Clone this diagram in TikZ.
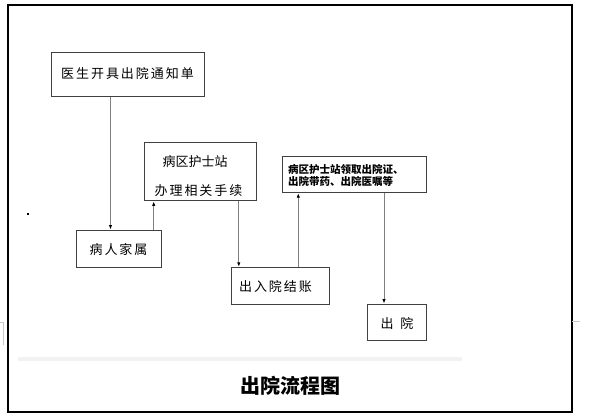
\documentclass[tikz,border=0pt]{standalone}
\usepackage{fontspec}
\usetikzlibrary{arrows.meta}
\newfontfamily\cjk{Noto Sans CJK SC}
\newfontfamily\cjkls[LetterSpace=15]{Noto Sans CJK SC}
\definecolor{boxline}{HTML}{404040}
\definecolor{connline}{HTML}{7F7F7F}
\definecolor{barfill}{HTML}{F2F2F2}
\definecolor{markgray}{HTML}{C8C8C8}
\tikzset{
  box/.style={draw=boxline, line width=1pt, rectangle, inner sep=0pt},
  txt/.style={inner sep=0pt, font=\fontsize{13pt}{15pt}\cjkls},
  conn/.style={draw=connline, line width=0.9pt, -{Latex[black,length=4.5pt,width=3.5pt]}},
}
\begin{document}
\begin{tikzpicture}[x=1pt,y=-1pt]
\useasboundingbox (0,0) rectangle (589,417);
\fill[white] (0,0) rectangle (589,417);
% outer frame
\draw[black, line width=1.5pt] (8,5) rectangle (572,412);
% page marks
\draw[markgray, line width=0.8pt] (0,322) -- (3,322) -- (3,345);
\draw[markgray, line width=0.8pt] (572,321) -- (580,321);
% dot
\fill[black] (27,213) rectangle (29,215);
% boxes
\node[box, minimum width=153pt, minimum height=44pt] (n1) at (127.5,75) {};
\node[txt] (t1) at (127.5,74) {医生开具出院通知单};
\node[box, minimum width=85.3pt, minimum height=37pt] (n3) at (119.3,248.5) {};
\node[txt] (t3) at (118.5,250) {病人家属};
\node[box, minimum width=111.7pt, minimum height=58.5pt] (n2) at (200.2,171.7) {};
\node[txt, font=\fontsize{13pt}{15pt}\cjk] (t2a) at (195,161.5) {病区护士站};
\node[txt] (t2b) at (198.5,191) {办理相关手续};
\node[box, minimum width=98.3pt, minimum height=37pt] (n4) at (280.2,285.8) {};
\node[txt] (t4) at (275.5,286.5) {出入院结账};
\node[box, minimum width=144.4pt, minimum height=36pt] (n5) at (354.5,174.7) {};
\node[inner sep=0pt, anchor=west, align=left, font=\fontsize{10.5pt}{12pt}\cjk\bfseries] (t5) at (288,175.8) {病区护士站领取出院证、\\出院带药、出院医嘱等};
\node[box, minimum width=59.4pt, minimum height=36pt] (n6) at (397,322) {};
\node[txt] (t6) at (397,323.5) {出\hspace{7pt}院};
% connector columns
\coordinate (c1) at (110.5,0);
\coordinate (c2) at (153.7,0);
\coordinate (c3) at (238.8,0);
\coordinate (c4) at (298.3,0);
\coordinate (c5) at (384,0);
\draw[conn] (c1 |- n1.south) -- (c1 |- n3.north);
\draw[conn] (c2 |- n3.north) -- (c2 |- n2.south);
\draw[conn] (c3 |- n2.south) -- (c3 |- n4.north);
\draw[conn] (c4 |- n4.north) -- (c4 |- n5.south);
\draw[conn] (c5 |- n5.south) -- (c5 |- n6.north);
% gray bar
\fill[barfill] (18,357) rectangle (462,361);
% title
\node[inner sep=0pt, font=\fontsize{20pt}{24pt}\cjk\bfseries] (title) at (290,386) {出院流程图};
\end{tikzpicture}
\end{document}
